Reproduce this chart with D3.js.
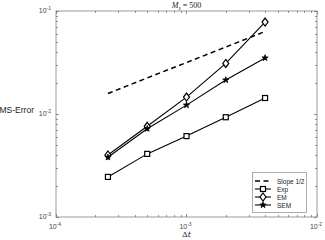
<!DOCTYPE html>
<html lang='en'>
<head>
  <meta charset='UTF-8'>
  <title>RMS error</title>
  <script src="https://d3js.org/d3.v7.min.js"></script>
  <style>
    body { margin: 0; background: #fff; }
    svg { display: block; font-family: 'Liberation Sans', Arial, sans-serif; }
  </style>
</head>
<body>
  <div id="chart"></div>
  <script>
    const dt = [2.5e-4, 5e-4, 1e-3, 2e-3, 4e-3];
    const expErr = [2.45e-3, 4.1e-3, 6.1e-3, 9.3e-3, 1.43e-2];
    const emErr = [4.0e-3, 7.6e-3, 1.46e-2, 3.1e-2, 7.8e-2];
    const semErr = [3.8e-3, 7.2e-3, 1.22e-2, 2.14e-2, 3.5e-2];
    const slopeErr = [1.58e-2, 2.24e-2, 3.16e-2, 4.47e-2, 6.32e-2];
    const xTickVals = [1e-4, 1e-3, 1e-2];
    const yTickVals = [1e-3, 1e-2, 1e-1];
    const tickExp = { 1e-4: '-4', 1e-3: '-3', 1e-2: '-2', 1e-1: '-1' };
    const legendNames = ['Slope 1/2', 'Exp', 'EM', 'SEM'];

    const width = 325, height = 240;
    const m = { left: 56, right: 8, top: 11, bottom: 23 };

    const svg = d3.select('#chart').append('svg')
      .attr('width', width)
      .attr('height', height);

    const x = d3.scaleLog().domain([1e-4, 1e-2]).range([m.left, width - m.right]);
    const y = d3.scaleLog().domain([1e-3, 1e-1]).range([height - m.bottom, m.top]);

    // minor ticks
    const minor = (lo, hi) => {
      const out = [];
      for (let e = lo; e < hi; e++) {
        for (let k = 2; k <= 9; k++) out.push(k * Math.pow(10, e));
      }
      return out;
    };
    const xMinor = minor(-4, -2);
    const yMinor = minor(-3, -1);

    const axisColor = '#9a9a9a';
    const tickColor = '#666';
    const x0 = m.left, x1 = width - m.right, y0 = height - m.bottom, y1 = m.top;

    const grid = svg.append('g');
    // frame
    grid.append('rect')
      .attr('x', x0).attr('y', y1)
      .attr('width', x1 - x0).attr('height', y0 - y1)
      .attr('fill', 'none').attr('stroke', axisColor).attr('stroke-width', 1);

    xMinor.concat(xTickVals).forEach((v) => {
      const len = xTickVals.includes(v) ? 3 : 2;
      const px = Math.round(x(v)) + 0.5;
      grid.append('line').attr('x1', px).attr('x2', px).attr('y1', y0).attr('y2', y0 - len)
        .attr('stroke', tickColor).attr('stroke-width', 0.7);
      grid.append('line').attr('x1', px).attr('x2', px).attr('y1', y1).attr('y2', y1 + len)
        .attr('stroke', tickColor).attr('stroke-width', 0.7);
    });
    yMinor.concat(yTickVals).forEach((v) => {
      const len = yTickVals.includes(v) ? 3 : 2;
      const py = Math.round(y(v)) + 0.5;
      grid.append('line').attr('y1', py).attr('y2', py).attr('x1', x0).attr('x2', x0 + len)
        .attr('stroke', tickColor).attr('stroke-width', 0.7);
      grid.append('line').attr('y1', py).attr('y2', py).attr('x1', x1).attr('x2', x1 - len)
        .attr('stroke', tickColor).attr('stroke-width', 0.7);
    });

    // tick labels
    const lblColor = '#444';
    xTickVals.forEach((v) => {
      const t = svg.append('text')
        .attr('x', x(v) - 1).attr('y', y0 + 12)
        .attr('text-anchor', 'middle')
        .attr('font-size', 7).attr('fill', lblColor);
      t.append('tspan').text('10');
      t.append('tspan').attr('dy', -3).attr('font-size', 5).text(tickExp[v]);
    });
    yTickVals.forEach((v) => {
      const t = svg.append('text')
        .attr('x', x0 - 5).attr('y', y(v) + 2)
        .attr('text-anchor', 'end')
        .attr('font-size', 7).attr('fill', lblColor);
      t.append('tspan').text('10');
      t.append('tspan').attr('dy', -3).attr('font-size', 5).text(tickExp[v]);
    });

    // axis labels (the reference crops the leading "R" at the left edge)
    svg.append('text')
      .attr('x', 34).attr('y', 113)
      .attr('text-anchor', 'end')
      .attr('font-size', 8.5).attr('fill', '#222')
      .text('RMS-Error');
    svg.append('text')
      .attr('x', (x0 + x1) / 2).attr('y', 237)
      .attr('text-anchor', 'middle')
      .attr('font-family', "'DejaVu Serif', 'Liberation Serif', serif")
      .attr('font-size', 8).attr('fill', '#222')
      .html('&#916;<tspan font-style="italic">t</tspan>');
    const title = svg.append('text')
      .attr('x', (x0 + x1) / 2).attr('y', 8)
      .attr('text-anchor', 'middle')
      .attr('font-family', "'Liberation Serif', serif")
      .attr('font-size', 8).attr('fill', '#222');
    title.append('tspan').attr('font-style', 'italic').text('M');
    title.append('tspan').attr('font-style', 'italic').attr('font-size', 5.5).attr('dy', 1.5).text('s');
    title.append('tspan').attr('dy', -1.5).text(' = 500');

    // series
    const line = d3.line().x((d) => x(d[0])).y((d) => y(d[1]));
    const pairs = (arr) => dt.map((d, i) => [d, arr[i]]);

    svg.append('path')
      .datum(pairs(slopeErr))
      .attr('fill', 'none').attr('stroke', '#000')
      .attr('stroke-width', 1.5).attr('stroke-dasharray', '5,3.5')
      .attr('d', line);

    const series = [
      { vals: expErr, shape: 'square' },
      { vals: emErr, shape: 'diamond' },
      { vals: semErr, shape: 'star' },
    ];

    function marker(g, shape, cx, cy) {
      if (shape === 'square') {
        g.append('rect').attr('x', cx - 2.5).attr('y', cy - 2.5).attr('width', 5).attr('height', 5)
          .attr('fill', '#fff').attr('stroke', '#000').attr('stroke-width', 1.2);
      } else if (shape === 'diamond') {
        g.append('path').attr('d', `M${cx},${cy - 4}L${cx + 3},${cy}L${cx},${cy + 4}L${cx - 3},${cy}Z`)
          .attr('fill', '#fff').attr('stroke', '#000').attr('stroke-width', 1.2);
      } else {
        g.append('path').attr('d', d3.symbol().type(d3.symbolStar).size(12)())
          .attr('transform', `translate(${cx},${cy})`)
          .attr('fill', '#000').attr('stroke', '#000').attr('stroke-width', 0.8);
      }
    }

    series.forEach((s) => {
      const g = svg.append('g');
      g.append('path')
        .datum(pairs(s.vals))
        .attr('fill', 'none').attr('stroke', '#000').attr('stroke-width', 1.1)
        .attr('d', line);
      pairs(s.vals).forEach((p) => marker(g, s.shape, x(p[0]), y(p[1])));
    });

    // legend
    const lg = svg.append('g');
    const lx = 252, ly = 172;
    lg.append('rect').attr('x', lx + 0.5).attr('y', ly + 0.5).attr('width', 54).attr('height', 40)
      .attr('fill', '#fff').attr('stroke', '#999').attr('stroke-width', 0.8);
    legendNames.forEach((name, i) => {
      const yy = ly + 9 + i * 8;
      const sample = lg.append('line').attr('x1', lx + 3).attr('x2', lx + 19)
        .attr('y1', yy).attr('y2', yy).attr('stroke', '#000');
      if (i === 0) {
        sample.attr('stroke-width', 1.5).attr('stroke-dasharray', '5,3.5');
      } else {
        sample.attr('stroke-width', 1.1);
        marker(lg, series[i - 1].shape, lx + 11, yy);
      }
      lg.append('text').attr('x', lx + 25).attr('y', yy + 2.5)
        .attr('font-size', 6.5).attr('fill', '#222').text(name);
    });
  </script>
</body>
</html>
